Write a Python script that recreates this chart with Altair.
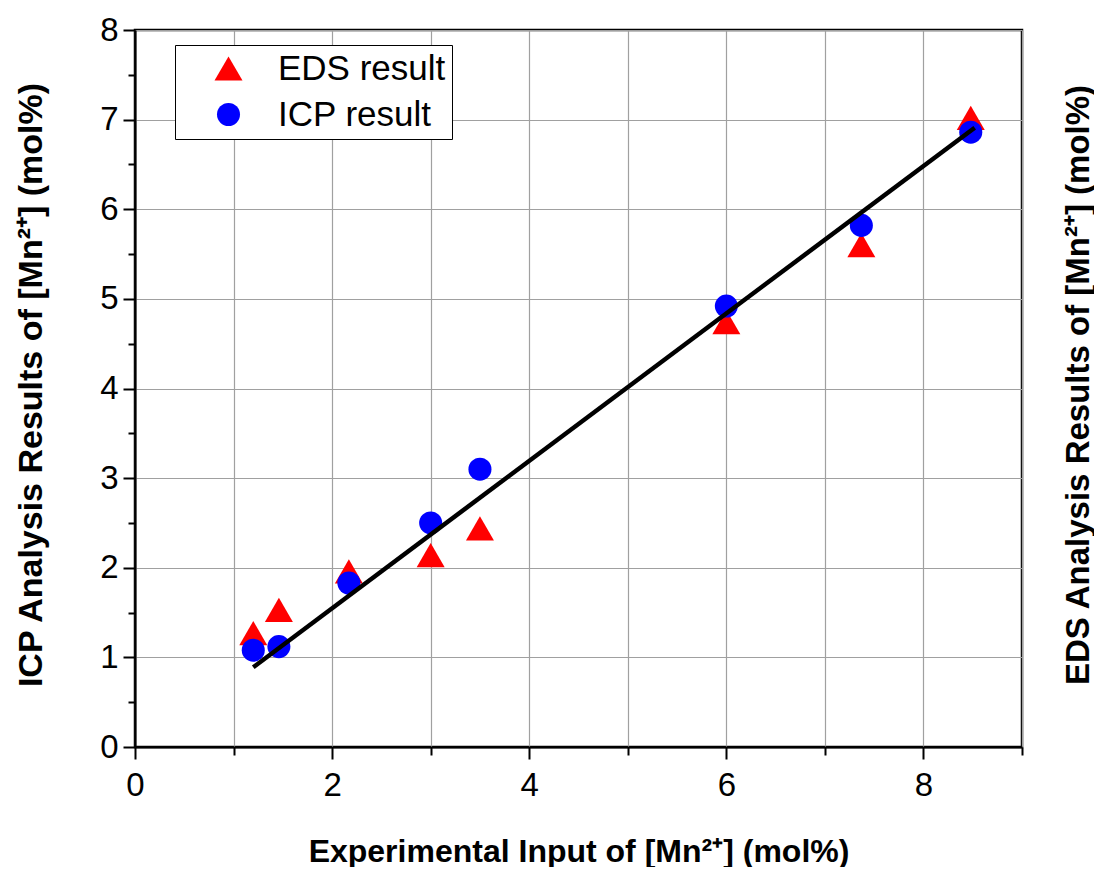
import altair as alt
import pandas as pd

# Data
x_input = [1.2, 1.46, 2.17, 3.0, 3.5, 6.0, 7.37, 8.48]
eds_result = [1.27, 1.53, 1.96, 2.14, 2.44, 4.74, 5.6, 7.02]
icp_result = [1.08, 1.12, 1.83, 2.5, 3.1, 4.92, 5.82, 6.86]
fit_x = [1.2, 8.52]
fit_y = [0.89, 6.91]
series_names = ["EDS result", "ICP result"]
x_ticks = list(range(0, 10))
y_ticks = [i * 0.5 for i in range(0, 17)]

FONT = "Liberation Sans, Arial, sans-serif"
W, H = 887, 717

rows = []
for name, vals in zip(series_names, [eds_result, icp_result]):
    for xv, yv in zip(x_input, vals):
        rows.append({"x": xv, "y": yv, "series": name})
pts = pd.DataFrame(rows)
fit = pd.DataFrame({"x": fit_x, "y": fit_y})

x_scale = alt.Scale(domain=[0, 9], nice=False, zero=False)
y_scale = alt.Scale(domain=[0, 8], nice=False, zero=False)

x_axis = alt.Axis(
    title="Experimental Input of [Mn²⁺] (mol%)",
    values=x_ticks,
    labelExpr="datum.value % 2 === 0 ? format(datum.value, 'd') : ''",
    tickSize={"condition": {"test": "datum.value % 2 === 0", "value": 12}, "value": 8},
    tickColor="black", tickWidth=2,
    domainColor="black", domainWidth=2,
    grid=True, gridColor="#a0a0a0", gridWidth=1.2,
    labelFont=FONT, labelFontSize=33, labelColor="black", labelPadding=10,
    titleFont=FONT, titleFontSize=32, titleFontWeight="bold", titleColor="black",
    titleX=W / 2, titleY=104, titleBaseline="middle", titleAlign="center",
    labelFlush=False, labelOverlap=False,
)

y_axis = alt.Axis(
    title="ICP Analysis Results of [Mn²⁺] (mol%)",
    values=y_ticks,
    labelExpr="datum.value % 1 === 0 ? format(datum.value, 'd') : ''",
    tickSize={"condition": {"test": "datum.value % 1 === 0", "value": 12}, "value": 7},
    gridOpacity={"condition": {"test": "datum.value % 1 === 0", "value": 1}, "value": 0},
    tickColor="black", tickWidth=2,
    domainColor="black", domainWidth=2,
    grid=True, gridColor="#a0a0a0", gridWidth=1.2,
    labelFont=FONT, labelFontSize=33, labelColor="black", labelPadding=5,
    titleFont=FONT, titleFontSize=34, titleFontWeight="bold", titleColor="black",
    titleAngle=270, titleX=-104, titleY=H / 2 - 4, titleBaseline="middle", titleAlign="center",
    labelFlush=False, labelOverlap=False,
)

points = alt.Chart(pts).mark_point(filled=True, opacity=1, strokeWidth=0).encode(
    x=alt.X("x:Q", scale=x_scale, axis=x_axis),
    y=alt.Y("y:Q", scale=y_scale, axis=y_axis),
    color=alt.Color("series:N", scale=alt.Scale(domain=series_names, range=["#ff0000", "#0000ff"]),
                    legend=alt.Legend(
                        title=None, orient="none", legendX=40, legendY=15,
                        fillColor="white", strokeColor="black",
                        padding=6, symbolSize=420, symbolOffset=30, labelOffset=32,
                        rowPadding=10, labelFont=FONT, labelFontSize=35, labelColor="black",
                        labelLimit=400, symbolStrokeWidth=0,
                    )),
    shape=alt.Shape("series:N", scale=alt.Scale(domain=series_names, range=["triangle-up", "circle"])),
    size=alt.Size("series:N", scale=alt.Scale(domain=series_names, range=[784, 530]), legend=None),
    order=alt.Order("series:N"),
)

right_axis = alt.Axis(
    title="EDS Analysis Results of [Mn²⁺] (mol%)", orient="right",
    ticks=False, labels=False, domain=False, grid=False,
    titleFont=FONT, titleFontSize=33, titleFontWeight="bold", titleColor="black",
    titleAngle=270, titleX=56, titleY=H / 2 - 4, titleBaseline="middle", titleAlign="center",
)

line = alt.Chart(fit).mark_line(color="black", strokeWidth=4.5).encode(
    x=alt.X("x:Q", scale=x_scale),
    y=alt.Y("y:Q", scale=y_scale, axis=right_axis),
)

chart = alt.layer(points, line).resolve_scale(y="independent").properties(
    width=W, height=H,
    autosize=alt.AutoSizeParams(type="none"),
    padding={"left": 127, "top": 22, "right": 72, "bottom": 120},
    background="white",
).configure_view(stroke="black", strokeWidth=2.5)

chart.save("out.html", embed_options={"renderer": "svg", "actions": False})
